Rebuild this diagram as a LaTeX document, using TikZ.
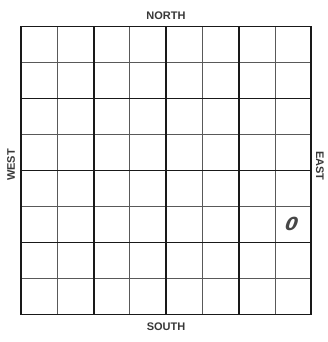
\documentclass[tikz,border=0pt]{standalone}
\usepackage{fontspec}
\setmainfont{Liberation Sans}
\newfontfamily\zerofont{DejaVu Sans}
\begin{document}
\begin{tikzpicture}[x=1pt,y=-1pt,
  thinline/.style={line width=0.9pt,draw=black!65},
  thickline/.style={line width=1.9pt,draw=black!90},
  dirlabel/.style={font=\fontsize{11}{13}\selectfont\bfseries, text=black!78, inner sep=0pt}]
\useasboundingbox (0,0) rectangle (327,342);
\fill[white] (0,0) rectangle (327,342);
\def\xa{21}\def\cw{36.3}\def\ya{26.5}\def\ch{36}
% thin lines
\foreach \i in {1,3,5,7}{
  \draw[thinline] ({\xa+\i*\cw},\ya) -- ({\xa+\i*\cw},{\ya+8*\ch});
  \draw[thinline] (\xa,{\ya+\i*\ch}) -- ({\xa+8*\cw},{\ya+\i*\ch});
}
% thick lines
\foreach \i in {2,4,6}{
  \draw[thickline] ({\xa+\i*\cw},\ya) -- ({\xa+\i*\cw},{\ya+8*\ch});
  \draw[thickline] (\xa,{\ya+\i*\ch}) -- ({\xa+8*\cw},{\ya+\i*\ch});
}
\draw[thickline] (\xa,\ya) rectangle ({\xa+8*\cw},{\ya+8*\ch});
% labels
\node[dirlabel] (north) at (166,15.5) {NORTH};
\node[dirlabel] (south) at (166,326.5) {SOUTH};
\node[dirlabel,rotate=90] (west) at (11,165) {WEST};
\node[dirlabel,rotate=-90] (east) at (320,166) {EAST};
% handwritten zero
\node[inner sep=0pt, text=black!72, font=\zerofont\fontsize{18}{20}\selectfont\bfseries, xslant=0.35] (zero) at (292,223.5) {0};
\end{tikzpicture}
\end{document}
